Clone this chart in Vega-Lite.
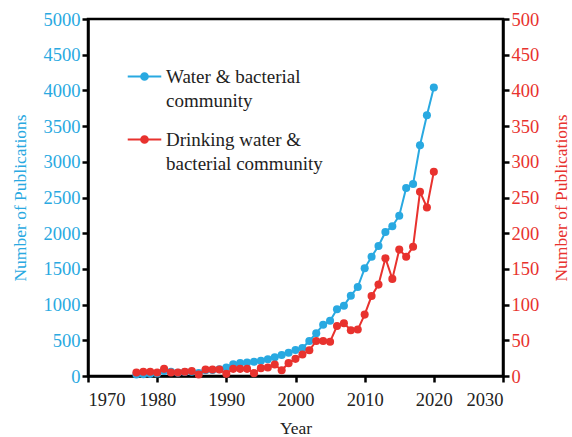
{
  "$schema": "https://vega.github.io/schema/vega-lite/v6.json",
  "width": 415,
  "height": 357,
  "autosize": "none",
  "padding": {"left": 88, "top": 19, "right": 69, "bottom": 61},
  "background": "white",
  "config": {
    "view": {"stroke": "black", "strokeWidth": 2.5},
    "font": "Liberation Serif",
    "axis": {
      "grid": false,
      "domainColor": "black",
      "domainWidth": 2.5,
      "tickColor": "black",
      "tickWidth": 2.5,
      "tickSize": 6,
      "labelFont": "Liberation Serif, Times New Roman, serif",
      "titleFont": "Liberation Serif, Times New Roman, serif",
      "labelFontSize": 18.5,
      "titleFontSize": 17.5,
      "titleFontWeight": "normal",
      "labelColor": "#222222",
      "titleColor": "#222222"
    }
  },
  "data": {
    "values": [
      {"year": 1977, "series": "Water & bacterial community", "value": 20},
      {"year": 1978, "series": "Water & bacterial community", "value": 25},
      {"year": 1979, "series": "Water & bacterial community", "value": 30},
      {"year": 1980, "series": "Water & bacterial community", "value": 35},
      {"year": 1981, "series": "Water & bacterial community", "value": 70},
      {"year": 1982, "series": "Water & bacterial community", "value": 60},
      {"year": 1983, "series": "Water & bacterial community", "value": 45},
      {"year": 1984, "series": "Water & bacterial community", "value": 55},
      {"year": 1985, "series": "Water & bacterial community", "value": 60},
      {"year": 1986, "series": "Water & bacterial community", "value": 40},
      {"year": 1987, "series": "Water & bacterial community", "value": 80},
      {"year": 1988, "series": "Water & bacterial community", "value": 85},
      {"year": 1989, "series": "Water & bacterial community", "value": 95},
      {"year": 1990, "series": "Water & bacterial community", "value": 120},
      {"year": 1991, "series": "Water & bacterial community", "value": 165},
      {"year": 1992, "series": "Water & bacterial community", "value": 180},
      {"year": 1993, "series": "Water & bacterial community", "value": 190},
      {"year": 1994, "series": "Water & bacterial community", "value": 200},
      {"year": 1995, "series": "Water & bacterial community", "value": 214},
      {"year": 1996, "series": "Water & bacterial community", "value": 234},
      {"year": 1997, "series": "Water & bacterial community", "value": 262},
      {"year": 1998, "series": "Water & bacterial community", "value": 294},
      {"year": 1999, "series": "Water & bacterial community", "value": 326},
      {"year": 2000, "series": "Water & bacterial community", "value": 364},
      {"year": 2001, "series": "Water & bacterial community", "value": 392},
      {"year": 2002, "series": "Water & bacterial community", "value": 490},
      {"year": 2003, "series": "Water & bacterial community", "value": 600},
      {"year": 2004, "series": "Water & bacterial community", "value": 718},
      {"year": 2005, "series": "Water & bacterial community", "value": 775},
      {"year": 2006, "series": "Water & bacterial community", "value": 934},
      {"year": 2007, "series": "Water & bacterial community", "value": 985},
      {"year": 2008, "series": "Water & bacterial community", "value": 1125},
      {"year": 2009, "series": "Water & bacterial community", "value": 1246},
      {"year": 2010, "series": "Water & bacterial community", "value": 1508},
      {"year": 2011, "series": "Water & bacterial community", "value": 1671},
      {"year": 2012, "series": "Water & bacterial community", "value": 1821},
      {"year": 2013, "series": "Water & bacterial community", "value": 2017},
      {"year": 2014, "series": "Water & bacterial community", "value": 2097},
      {"year": 2015, "series": "Water & bacterial community", "value": 2245},
      {"year": 2016, "series": "Water & bacterial community", "value": 2633},
      {"year": 2017, "series": "Water & bacterial community", "value": 2690},
      {"year": 2018, "series": "Water & bacterial community", "value": 3231},
      {"year": 2019, "series": "Water & bacterial community", "value": 3651},
      {"year": 2020, "series": "Water & bacterial community", "value": 4040},
      {"year": 1977, "series": "Drinking water & bacterial community", "value": 5},
      {"year": 1978, "series": "Drinking water & bacterial community", "value": 6},
      {"year": 1979, "series": "Drinking water & bacterial community", "value": 6},
      {"year": 1980, "series": "Drinking water & bacterial community", "value": 5},
      {"year": 1981, "series": "Drinking water & bacterial community", "value": 10},
      {"year": 1982, "series": "Drinking water & bacterial community", "value": 5},
      {"year": 1983, "series": "Drinking water & bacterial community", "value": 5},
      {"year": 1984, "series": "Drinking water & bacterial community", "value": 6},
      {"year": 1985, "series": "Drinking water & bacterial community", "value": 7},
      {"year": 1986, "series": "Drinking water & bacterial community", "value": 2},
      {"year": 1987, "series": "Drinking water & bacterial community", "value": 9},
      {"year": 1988, "series": "Drinking water & bacterial community", "value": 9},
      {"year": 1989, "series": "Drinking water & bacterial community", "value": 9},
      {"year": 1990, "series": "Drinking water & bacterial community", "value": 3},
      {"year": 1991, "series": "Drinking water & bacterial community", "value": 10},
      {"year": 1992, "series": "Drinking water & bacterial community", "value": 10},
      {"year": 1993, "series": "Drinking water & bacterial community", "value": 10},
      {"year": 1994, "series": "Drinking water & bacterial community", "value": 4},
      {"year": 1995, "series": "Drinking water & bacterial community", "value": 11},
      {"year": 1996, "series": "Drinking water & bacterial community", "value": 12},
      {"year": 1997, "series": "Drinking water & bacterial community", "value": 16},
      {"year": 1998, "series": "Drinking water & bacterial community", "value": 8},
      {"year": 1999, "series": "Drinking water & bacterial community", "value": 18},
      {"year": 2000, "series": "Drinking water & bacterial community", "value": 24},
      {"year": 2001, "series": "Drinking water & bacterial community", "value": 30},
      {"year": 2002, "series": "Drinking water & bacterial community", "value": 36},
      {"year": 2003, "series": "Drinking water & bacterial community", "value": 49},
      {"year": 2004, "series": "Drinking water & bacterial community", "value": 49},
      {"year": 2005, "series": "Drinking water & bacterial community", "value": 48},
      {"year": 2006, "series": "Drinking water & bacterial community", "value": 70},
      {"year": 2007, "series": "Drinking water & bacterial community", "value": 74},
      {"year": 2008, "series": "Drinking water & bacterial community", "value": 64},
      {"year": 2009, "series": "Drinking water & bacterial community", "value": 65},
      {"year": 2010, "series": "Drinking water & bacterial community", "value": 86},
      {"year": 2011, "series": "Drinking water & bacterial community", "value": 112},
      {"year": 2012, "series": "Drinking water & bacterial community", "value": 128},
      {"year": 2013, "series": "Drinking water & bacterial community", "value": 165},
      {"year": 2014, "series": "Drinking water & bacterial community", "value": 136},
      {"year": 2015, "series": "Drinking water & bacterial community", "value": 177},
      {"year": 2016, "series": "Drinking water & bacterial community", "value": 167},
      {"year": 2017, "series": "Drinking water & bacterial community", "value": 181},
      {"year": 2018, "series": "Drinking water & bacterial community", "value": 258},
      {"year": 2019, "series": "Drinking water & bacterial community", "value": 236},
      {"year": 2020, "series": "Drinking water & bacterial community", "value": 286}
    ]
  },
  "encoding": {
    "x": {
      "field": "year",
      "type": "quantitative",
      "scale": {"domain": [1970, 2030], "nice": false, "zero": false},
      "axis": {
        "values": [1970, 1980, 1990, 2000, 2010, 2020, 2030],
        "format": "d",
        "title": "Year",
        "labelPadding": 8,
        "titlePadding": 11
      }
    }
  },
  "layer": [
    {
      "transform": [{"filter": "datum.series == 'Water & bacterial community'"}],
      "mark": {"type": "line", "strokeWidth": 2, "point": {"filled": true, "size": 65, "opacity": 1}},
      "encoding": {
        "y": {
          "field": "value",
          "type": "quantitative",
          "scale": {"domain": [0, 5000], "nice": false},
          "axis": {
            "orient": "left",
            "values": [0, 500, 1000, 1500, 2000, 2500, 3000, 3500, 4000, 4500, 5000],
            "format": "d",
            "title": "Number of  Publications",
            "labelColor": "#29a9e1",
            "titleColor": "#29a9e1",
            "titlePadding": 14
          }
        },
        "color": {
          "field": "series",
          "type": "nominal",
          "scale": {
            "domain": ["Water & bacterial community", "Drinking water & bacterial community"],
            "range": ["#29a9e1", "#e8322e"]
          },
          "legend": {
            "orient": "none",
            "legendX": 44,
            "legendY": 45,
            "title": null,
            "labelFont": "Liberation Serif",
            "labelFontSize": 19,
            "labelColor": "#222222",
            "labelLimit": 0,
            "labelExpr": "datum.label == 'Water & bacterial community' ? ['Water & bacterial', 'community'] : ['Drinking water &', 'bacterial community']",
            "symbolType": "M-1.5,0L1.5,0M-0.3,0A0.3,0.3,0,1,0,0.3,0A0.3,0.3,0,1,0,-0.3,0Z",
            "symbolSize": 500,
            "symbolStrokeWidth": 2,
            "rowPadding": 16,
            "labelOffset": 9,
            "encode": {
              "symbols": {"update": {"fill": {"scale": "color", "field": "value"}}},
              "labels": {"update": {"lineHeight": {"value": 24}}}
            }
          }
        }
      }
    },
    {
      "transform": [{"filter": "datum.series == 'Drinking water & bacterial community'"}],
      "mark": {"type": "line", "strokeWidth": 2, "point": {"filled": true, "size": 65, "opacity": 1}},
      "encoding": {
        "y": {
          "field": "value",
          "type": "quantitative",
          "scale": {"domain": [0, 500], "nice": false},
          "axis": {
            "orient": "right",
            "values": [0, 50, 100, 150, 200, 250, 300, 350, 400, 450, 500],
            "format": "d",
            "title": "Number of  Publications",
            "titleAngle": -90,
            "titleBaseline": "top",
            "labelColor": "#e8322e",
            "titleColor": "#e8322e",
            "titlePadding": 14
          }
        },
        "color": {
          "field": "series",
          "type": "nominal",
          "scale": {
            "domain": ["Water & bacterial community", "Drinking water & bacterial community"],
            "range": ["#29a9e1", "#e8322e"]
          }
        }
      }
    }
  ],
  "resolve": {"scale": {"y": "independent"}}
}
